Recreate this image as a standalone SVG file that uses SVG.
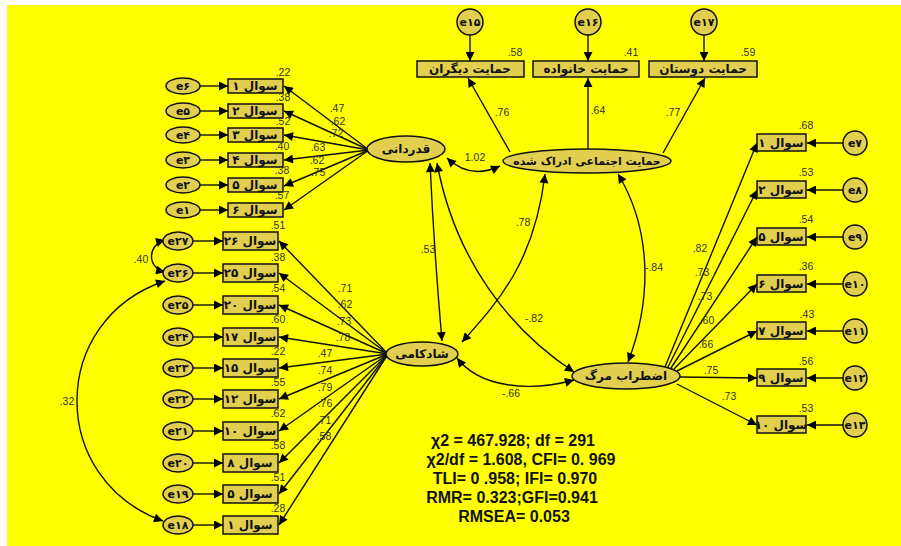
<svg xmlns="http://www.w3.org/2000/svg" width="901" height="546" viewBox="0 0 901 546">
<defs>
<marker id="ah" viewBox="0 0 10 10" refX="10" refY="5" markerWidth="12" markerHeight="9" markerUnits="userSpaceOnUse" orient="auto-start-reverse"><path d="M0,0 L10,5 L0,10 z" fill="#000"/></marker>
</defs>
<style>
.bg{fill:#ffff00}
.nd{fill:#e3cf4e;stroke:#111;stroke-width:1.5}
.lb{font-family:"DejaVu Sans",sans-serif;font-weight:bold;font-size:12px;fill:#111;text-anchor:middle}
.lt{font-family:"DejaVu Sans",sans-serif;font-weight:bold;font-size:12px;fill:#111;text-anchor:middle}
.el{font-family:"DejaVu Sans",sans-serif;font-weight:bold;font-size:11px;fill:#111;text-anchor:middle}
.nm{font-family:"Liberation Sans",Arial,sans-serif;font-size:10.5px;fill:#333;text-anchor:middle}
.fit{font-family:"Liberation Sans",Arial,sans-serif;font-weight:bold;font-size:16px;fill:#111;text-anchor:middle}
.ln{fill:none;stroke:#111;stroke-width:1.4;marker-end:url(#ah)}
.dl{fill:none;stroke:#111;stroke-width:1.4;marker-start:url(#ah);marker-end:url(#ah)}
</style>
<rect x="0" y="0" width="901" height="546" fill="#fff"/>
<rect class="bg" x="7" y="5" width="894" height="541"/>

<g id="connectors">
<path class="ln" d="M200,86 L228,86"/>
<path class="ln" d="M200,111 L228,111"/>
<path class="ln" d="M200,135 L228,135"/>
<path class="ln" d="M200,160 L228,160"/>
<path class="ln" d="M200,185 L228,185"/>
<path class="ln" d="M200,210 L228,210"/>
<path class="ln" d="M369,150 L284,86"/>
<path class="ln" d="M369,150 L284,111"/>
<path class="ln" d="M369,150 L284,135"/>
<path class="ln" d="M369,150 L284,160"/>
<path class="ln" d="M369,150 L284,186"/>
<path class="ln" d="M369,150 L284,210"/>
<path class="ln" d="M193,241 L223,241"/>
<path class="ln" d="M193,273 L223,273"/>
<path class="ln" d="M193,305 L223,305"/>
<path class="ln" d="M193,337 L223,337"/>
<path class="ln" d="M193,368 L223,368"/>
<path class="ln" d="M193,399 L223,399"/>
<path class="ln" d="M193,431 L223,431"/>
<path class="ln" d="M193,463 L223,463"/>
<path class="ln" d="M193,494 L223,494"/>
<path class="ln" d="M193,525 L223,525"/>
<path class="ln" d="M388,354 L279,241"/>
<path class="ln" d="M388,354 L279,273"/>
<path class="ln" d="M388,354 L279,305"/>
<path class="ln" d="M388,354 L279,337"/>
<path class="ln" d="M388,354 L279,368"/>
<path class="ln" d="M388,354 L279,399"/>
<path class="ln" d="M388,354 L279,431"/>
<path class="ln" d="M388,354 L279,463"/>
<path class="ln" d="M388,354 L279,494"/>
<path class="ln" d="M388,354 L279,525"/>
<path class="dl" d="M165,240 C147,245 147,268 165,272"/>
<path class="dl" d="M165,281 C48,320 48,480 163,521"/>
<path class="ln" d="M470,35 L470,61"/>
<path class="ln" d="M588,35 L588,61"/>
<path class="ln" d="M704,35 L704,61"/>
<path class="ln" d="M510,152 L468,78"/>
<path class="ln" d="M588,149 L588,78"/>
<path class="ln" d="M663,153 L705,78"/>
<path class="dl" d="M447,158 Q470,180 500,166"/>
<path class="dl" d="M430,163 Q434,250 442,341"/>
<path class="dl" d="M437,163 C455,260 510,330 574,372"/>
<path class="dl" d="M545,174 C535,260 500,300 462,342"/>
<path class="dl" d="M618,174 C652,230 652,300 628,362"/>
<path class="dl" d="M457,358 C480,388 530,392 574,380"/>
<path class="ln" d="M665,367 L757,143"/>
<path class="ln" d="M668,367 L757,190"/>
<path class="ln" d="M671,368 L757,237"/>
<path class="ln" d="M674,369 L757,284"/>
<path class="ln" d="M677,371 L757,331"/>
<path class="ln" d="M680,377 L757,378"/>
<path class="ln" d="M677,384 L757,425"/>
<path class="ln" d="M843,143 L807,143"/>
<path class="ln" d="M843,190 L807,190"/>
<path class="ln" d="M843,237 L807,237"/>
<path class="ln" d="M843,284 L807,284"/>
<path class="ln" d="M843,331 L807,331"/>
<path class="ln" d="M843,378 L807,378"/>
<path class="ln" d="M843,425 L807,425"/>
</g>

<g id="e6"><ellipse class="nd" cx="183" cy="86" rx="17" ry="8"/><text class="el" x="183" y="90">e۶</text></g>
<g id="e5"><ellipse class="nd" cx="183" cy="111" rx="17" ry="8"/><text class="el" x="183" y="115">e۵</text></g>
<g id="e4"><ellipse class="nd" cx="183" cy="135" rx="17" ry="8"/><text class="el" x="183" y="139">e۴</text></g>
<g id="e3"><ellipse class="nd" cx="183" cy="160" rx="17" ry="8"/><text class="el" x="183" y="164">e۳</text></g>
<g id="e2"><ellipse class="nd" cx="183" cy="185" rx="17" ry="8"/><text class="el" x="183" y="189">e۲</text></g>
<g id="e1"><ellipse class="nd" cx="183" cy="210" rx="17" ry="8"/><text class="el" x="183" y="214">e۱</text></g>
<g id="q1"><rect class="nd" x="228" y="79" width="55" height="14"/><text class="lb" x="255" y="90">سوال ۱</text></g>
<g id="q2"><rect class="nd" x="228" y="104" width="55" height="14"/><text class="lb" x="255" y="115">سوال ۲</text></g>
<g id="q3"><rect class="nd" x="228" y="128" width="55" height="14"/><text class="lb" x="255" y="139">سوال ۳</text></g>
<g id="q4"><rect class="nd" x="228" y="153" width="55" height="14"/><text class="lb" x="255" y="164">سوال ۴</text></g>
<g id="q5"><rect class="nd" x="228" y="178" width="55" height="14"/><text class="lb" x="255" y="189">سوال ۵</text></g>
<g id="q6"><rect class="nd" x="228" y="203" width="55" height="14"/><text class="lb" x="255" y="214">سوال ۶</text></g>

<g id="e27"><ellipse class="nd" cx="178" cy="241" rx="15" ry="9"/><text class="el" x="178" y="245">e۲۷</text></g>
<g id="e26"><ellipse class="nd" cx="178" cy="273" rx="15" ry="9"/><text class="el" x="178" y="277">e۲۶</text></g>
<g id="e25"><ellipse class="nd" cx="178" cy="305" rx="15" ry="9"/><text class="el" x="178" y="309">e۲۵</text></g>
<g id="e24"><ellipse class="nd" cx="178" cy="337" rx="15" ry="9"/><text class="el" x="178" y="341">e۲۴</text></g>
<g id="e23"><ellipse class="nd" cx="178" cy="368" rx="15" ry="9"/><text class="el" x="178" y="372">e۲۳</text></g>
<g id="e22"><ellipse class="nd" cx="178" cy="399" rx="15" ry="9"/><text class="el" x="178" y="403">e۲۲</text></g>
<g id="e21"><ellipse class="nd" cx="178" cy="431" rx="15" ry="9"/><text class="el" x="178" y="435">e۲۱</text></g>
<g id="e20"><ellipse class="nd" cx="178" cy="463" rx="15" ry="9"/><text class="el" x="178" y="467">e۲۰</text></g>
<g id="e19"><ellipse class="nd" cx="178" cy="494" rx="15" ry="9"/><text class="el" x="178" y="498">e۱۹</text></g>
<g id="e18"><ellipse class="nd" cx="178" cy="525" rx="15" ry="9"/><text class="el" x="178" y="529">e۱۸</text></g>
<g id="s26"><rect class="nd" x="223" y="232" width="55" height="18"/><text class="lb" x="250" y="245">سوال ۲۶</text></g>
<g id="s25"><rect class="nd" x="223" y="264" width="55" height="18"/><text class="lb" x="250" y="277">سوال ۲۵</text></g>
<g id="s20"><rect class="nd" x="223" y="296" width="55" height="18"/><text class="lb" x="250" y="309">سوال ۲۰</text></g>
<g id="s17"><rect class="nd" x="223" y="328" width="55" height="18"/><text class="lb" x="250" y="341">سوال ۱۷</text></g>
<g id="s15"><rect class="nd" x="223" y="359" width="55" height="18"/><text class="lb" x="250" y="372">سوال ۱۵</text></g>
<g id="s12"><rect class="nd" x="223" y="390" width="55" height="18"/><text class="lb" x="250" y="403">سوال ۱۲</text></g>
<g id="s10"><rect class="nd" x="223" y="422" width="55" height="18"/><text class="lb" x="250" y="435">سوال ۱۰</text></g>
<g id="s8"><rect class="nd" x="223" y="454" width="55" height="18"/><text class="lb" x="250" y="467">سوال ۸</text></g>
<g id="s5"><rect class="nd" x="223" y="485" width="55" height="18"/><text class="lb" x="250" y="498">سوال ۵</text></g>
<g id="s1"><rect class="nd" x="223" y="516" width="55" height="18"/><text class="lb" x="250" y="529">سوال ۱</text></g>

<g id="e15"><circle class="nd" cx="470" cy="22" r="13"/><text class="el" x="470" y="26">e۱۵</text></g>
<g id="e16"><circle class="nd" cx="588" cy="22" r="13"/><text class="el" x="588" y="26">e۱۶</text></g>
<g id="e17"><circle class="nd" cx="704" cy="22" r="13"/><text class="el" x="704" y="26">e۱۷</text></g>
<g id="t1"><rect class="nd" x="417" y="61" width="107" height="16"/><text class="lb" x="470" y="73">حمایت دیگران</text></g>
<g id="t2"><rect class="nd" x="533" y="61" width="106" height="16"/><text class="lb" x="586" y="73">حمایت خانواده</text></g>
<g id="t3"><rect class="nd" x="649" y="61" width="108" height="16"/><text class="lb" x="703" y="73">حمایت دوستان</text></g>

<g id="qadrdani"><ellipse class="nd" cx="406" cy="149" rx="39" ry="13"/><text class="lt" x="406" y="153">قدردانی</text></g>
<g id="hemayat"><ellipse class="nd" cx="587" cy="161" rx="84" ry="12"/><text class="lt" x="587" y="165" style="font-size:11px">حمایت اجتماعی ادراک شده</text></g>
<g id="shadkami"><ellipse class="nd" cx="422" cy="354" rx="36" ry="12"/><text class="lt" x="422" y="358">شادکامی</text></g>
<g id="ezterab"><ellipse class="nd" cx="626" cy="376" rx="54" ry="13"/><text class="lt" x="626" y="380">اضطراب مرگ</text></g>

<g id="r1"><rect class="nd" x="757" y="134" width="49" height="17"/><text class="lb" x="781" y="147">سوال ۱</text></g>
<g id="r2"><rect class="nd" x="757" y="181" width="49" height="17"/><text class="lb" x="781" y="194">سوال ۲</text></g>
<g id="r5"><rect class="nd" x="757" y="228" width="49" height="17"/><text class="lb" x="781" y="241">سوال ۵</text></g>
<g id="r6"><rect class="nd" x="757" y="275" width="49" height="17"/><text class="lb" x="781" y="288">سوال ۶</text></g>
<g id="r7"><rect class="nd" x="757" y="322" width="49" height="17"/><text class="lb" x="781" y="335">سوال ۷</text></g>
<g id="r9"><rect class="nd" x="757" y="369" width="49" height="17"/><text class="lb" x="781" y="382">سوال ۹</text></g>
<g id="r10"><rect class="nd" x="757" y="416" width="49" height="17"/><text class="lb" x="781" y="429">سوال ۱۰</text></g>
<g id="e7"><circle class="nd" cx="855" cy="143" r="12"/><text class="el" x="855" y="147">e۷</text></g>
<g id="e8"><circle class="nd" cx="855" cy="190" r="12"/><text class="el" x="855" y="194">e۸</text></g>
<g id="e9"><circle class="nd" cx="855" cy="237" r="12"/><text class="el" x="855" y="241">e۹</text></g>
<g id="e10"><circle class="nd" cx="855" cy="284" r="12"/><text class="el" x="855" y="288">e۱۰</text></g>
<g id="e11"><circle class="nd" cx="855" cy="331" r="12"/><text class="el" x="855" y="335">e۱۱</text></g>
<g id="e12"><circle class="nd" cx="855" cy="378" r="12"/><text class="el" x="855" y="382">e۱۲</text></g>
<g id="e13"><circle class="nd" cx="855" cy="425" r="12"/><text class="el" x="855" y="429">e۱۳</text></g>

<g id="numbers">
<text class="nm" x="283" y="76">.22</text>
<text class="nm" x="283" y="101">.38</text>
<text class="nm" x="283" y="125">.52</text>
<text class="nm" x="282" y="150">.40</text>
<text class="nm" x="282" y="174">.38</text>
<text class="nm" x="282" y="199">.57</text>
<text class="nm" x="337" y="112">.47</text>
<text class="nm" x="338" y="125">.62</text>
<text class="nm" x="336" y="137">.72</text>
<text class="nm" x="318" y="151">.63</text>
<text class="nm" x="317" y="164">.62</text>
<text class="nm" x="318" y="176">.75</text>
<text class="nm" x="278" y="229">.51</text>
<text class="nm" x="278" y="261">.38</text>
<text class="nm" x="278" y="292">.54</text>
<text class="nm" x="278" y="323">.60</text>
<text class="nm" x="278" y="355">.22</text>
<text class="nm" x="278" y="386">.55</text>
<text class="nm" x="278" y="417">.62</text>
<text class="nm" x="278" y="449">.58</text>
<text class="nm" x="278" y="481">.51</text>
<text class="nm" x="278" y="512">.28</text>
<text class="nm" x="345" y="292">.71</text>
<text class="nm" x="345" y="308">.62</text>
<text class="nm" x="344" y="325">.73</text>
<text class="nm" x="343" y="341">.78</text>
<text class="nm" x="325" y="357">.47</text>
<text class="nm" x="325" y="374">.74</text>
<text class="nm" x="325" y="391">.79</text>
<text class="nm" x="325" y="407">.76</text>
<text class="nm" x="324" y="424">.71</text>
<text class="nm" x="324" y="440">.58</text>
<text class="nm" x="141" y="263">.40</text>
<text class="nm" x="67" y="405">.32</text>
<text class="nm" x="515" y="56">.58</text>
<text class="nm" x="631" y="56">.41</text>
<text class="nm" x="748" y="56">.59</text>
<text class="nm" x="502" y="116">.76</text>
<text class="nm" x="598" y="114">.64</text>
<text class="nm" x="673" y="116">.77</text>
<text class="nm" x="475" y="161">1.02</text>
<text class="nm" x="428" y="253">.53</text>
<text class="nm" x="523" y="226">.78</text>
<text class="nm" x="654" y="271">-.84</text>
<text class="nm" x="534" y="322">-.82</text>
<text class="nm" x="511" y="397">-.66</text>
<text class="nm" x="806" y="129">.68</text>
<text class="nm" x="806" y="176">.53</text>
<text class="nm" x="806" y="223">.54</text>
<text class="nm" x="806" y="270">.36</text>
<text class="nm" x="807" y="318">.43</text>
<text class="nm" x="806" y="365">.56</text>
<text class="nm" x="806" y="412">.53</text>
<text class="nm" x="700" y="252">.82</text>
<text class="nm" x="702" y="276">.73</text>
<text class="nm" x="705" y="300">.73</text>
<text class="nm" x="707" y="324">.60</text>
<text class="nm" x="706" y="348">.66</text>
<text class="nm" x="711" y="374">.75</text>
<text class="nm" x="729" y="400">.73</text>
</g>

<g id="fit">
<text class="fit" x="513" y="446">χ2 = 467.928; df = 291</text>
<text class="fit" x="521" y="465">χ2/df = 1.608, CFI= 0. 969</text>
<text class="fit" x="515" y="484">TLI= 0 .958; IFI= 0.970</text>
<text class="fit" x="512" y="503">RMR= 0.323;GFI=0.941</text>
<text class="fit" x="514" y="522">RMSEA= 0.053</text>
</g>
</svg>
